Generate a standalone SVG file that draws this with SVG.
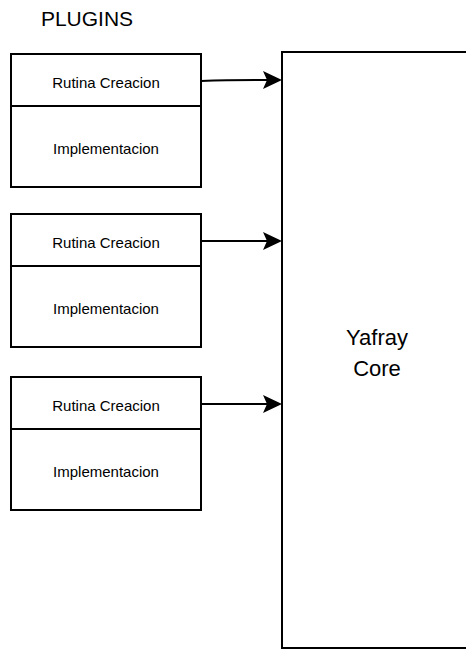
<svg xmlns="http://www.w3.org/2000/svg" width="466" height="649" viewBox="0 0 466 649">
<style>
.box{fill:#fff;stroke:#000;stroke-width:2}
.t{font-family:"Liberation Sans",Arial,sans-serif;font-size:15px;text-anchor:middle;fill:#000}
.big{font-family:"Liberation Sans",Arial,sans-serif;font-size:22px;text-anchor:middle;fill:#000}
.c{stroke:#000;stroke-width:2;fill:none}
.ah{fill:#000}
</style>
<rect width="466" height="649" fill="#fff"/>
<text x="87" y="26" class="big" style="font-size:21px">PLUGINS</text>
<g id="core">
<rect class="box" x="282" y="52" width="192" height="596"/>
<text x="377" y="345" class="big">Yafray</text>
<text x="377" y="376" class="big">Core</text>
</g>
<g id="plugin1">
<rect class="box" x="11" y="54" width="190" height="133"/>
<line class="c" x1="11" y1="106" x2="201" y2="106"/>
<text x="106" y="88" class="t">Rutina Creacion</text>
<text x="106" y="154" class="t">Implementacion</text>
</g>
<g id="plugin2">
<rect class="box" x="11" y="214" width="190" height="133"/>
<line class="c" x1="11" y1="266" x2="201" y2="266"/>
<text x="106" y="248" class="t">Rutina Creacion</text>
<text x="106" y="314" class="t">Implementacion</text>
</g>
<g id="plugin3">
<rect class="box" x="11" y="377" width="190" height="133"/>
<line class="c" x1="11" y1="429" x2="201" y2="429"/>
<text x="106" y="411" class="t">Rutina Creacion</text>
<text x="106" y="477" class="t">Implementacion</text>
</g>
<g id="connectors">
<path class="c" d="M201,81 Q230,80 268,80"/>
<path class="c" d="M201,241 L268,241"/>
<path class="c" d="M201,404 L268,404"/>
<path class="ah" d="M263,71 L282,80 L263,89 L267,80 Z"/>
<path class="ah" d="M263,232 L282,241 L263,250 L267,241 Z"/>
<path class="ah" d="M263,395 L282,404 L263,413 L267,404 Z"/>
</g>
</svg>
